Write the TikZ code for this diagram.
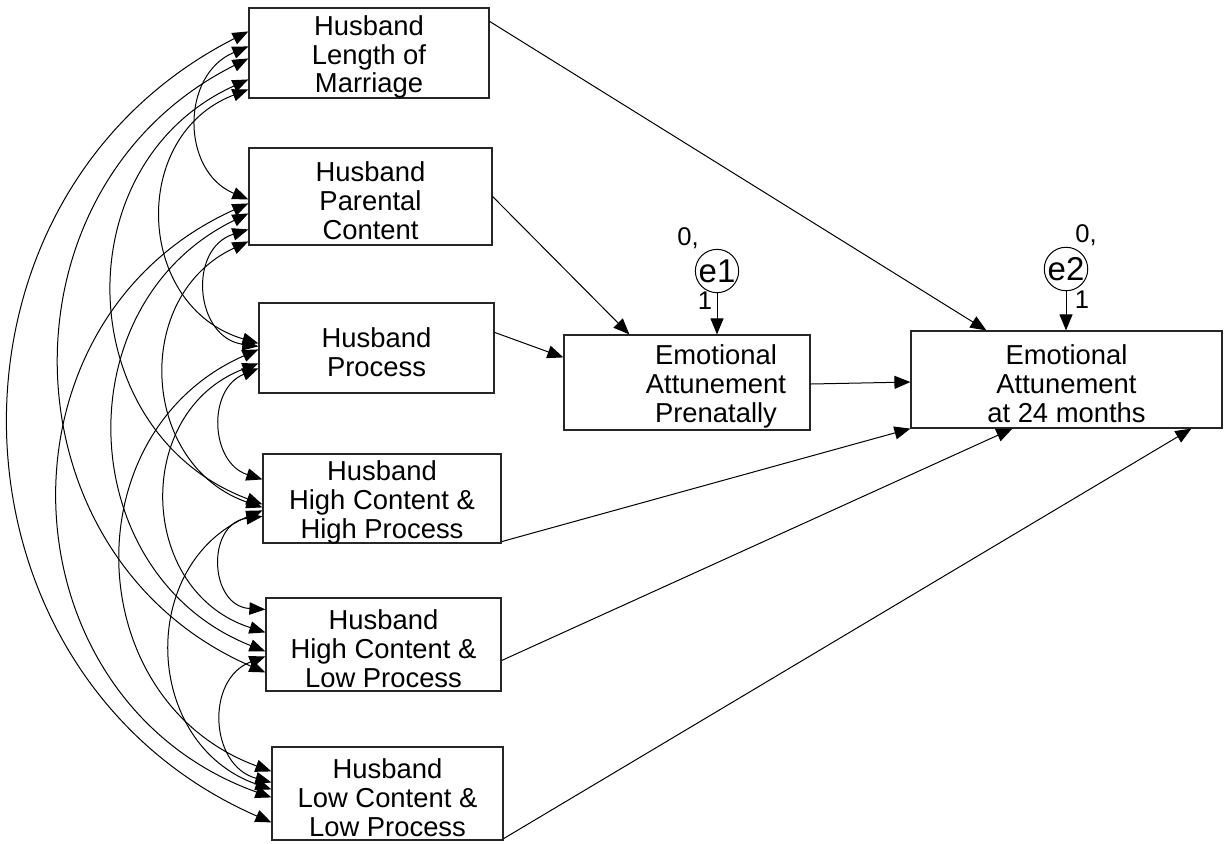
\documentclass[tikz,border=0pt]{standalone}
\usepackage{fontspec}
\setmainfont{Liberation Sans}
\usetikzlibrary{arrows.meta,calc}
\begin{document}
\begin{tikzpicture}[x=0.5pt,y=-0.5pt,
  box/.style={draw=black!85, line width=0.6pt, inner sep=0pt},
  boxtext/.style={draw=none, inner sep=0pt, align=center,
    font=\fontsize{13.7}{14.4}\selectfont},
  txt/.style={label={[boxtext, yshift=-2pt]center:#1}},
  txtoff/.style 2 args={label={[boxtext, xshift=#1, yshift=-2pt]center:#2}},
  path/.style={-{Triangle[length=8pt,width=6.5pt]}, line width=0.5pt},
  cov/.style={{Triangle[length=8pt,width=6.2pt]}-{Triangle[length=8pt,width=6.2pt]}, line width=0.5pt},
  err/.style={draw, circle, line width=0.5pt, inner sep=0pt, minimum size=19.5pt,
    font=\fontsize{16.5}{16.5}\selectfont},
  num/.style={font=\fontsize{12.8}{13}\selectfont, inner sep=0pt, anchor=base}
]
\useasboundingbox (0,0) rectangle (1225,843);

% exogenous variables
\node[box, minimum width=120pt, minimum height=45pt, txt={Husband\\Length of\\Marriage}] (lom) at (369,53) {};
\node[box, minimum width=121.5pt, minimum height=48.5pt, txt={Husband\\Parental\\Content}] (pc) at (370.5,196.5) {};
\node[box, minimum width=117.5pt, minimum height=45pt, txt={Husband\\Process}] (proc) at (376.5,348) {};
\node[box, minimum width=119pt, minimum height=44.5pt, txt={Husband\\High Content \&\\High Process}] (hchp) at (382,498.5) {};
\node[box, minimum width=117.5pt, minimum height=46.5pt, txt={Husband\\High Content \&\\Low Process}] (hclp) at (383.5,644.5) {};
\node[box, minimum width=115.5pt, minimum height=46.5pt, txt={Husband\\Low Content \&\\Low Process}] (lclp) at (387.5,793.5) {};

% endogenous variables
\node[box, minimum width=123pt, minimum height=47.5pt,
  txtoff={14.5pt}{Emotional\\Attunement\\Prenatally}] (pre) at (687,382.5) {};
\node[box, minimum width=155.5pt, minimum height=48.5pt,
  txt={Emotional\\Attunement\\at 24 months}] (m24) at (1066.5,379.5) {};

% error terms
\node[err] (e1) at (717,271) {e1};
\node[err, minimum size=20pt] (e2) at (1066,269) {e2};
\node[num] (e1m) at (688,245) {0,};
\node[num] (e1w) at (705,309) {1};
\node[num] (e2m) at (1086,242) {0,};
\node[num] (e2w) at (1082,308) {1};
\draw[path] (e1) -- (e1.south |- pre.north);
\draw[path] (e2) -- (e2.south |- m24.north);

% regression paths
\draw[path] ([yshift=-7pt]lom.north east) -- ([xshift=38pt]m24.north west);
\draw[path] (pc.east) -- ([xshift=33pt]pre.north west);
\draw[path] ([yshift=-15pt]proc.north east) -- ([yshift=-11.5pt]pre.north west);
\draw[path] ([yshift=-0.75pt]pre.east) -- ([yshift=-1.25pt]m24.west);
\draw[path] ([yshift=1pt]hchp.south east) -- (m24.south west);
\draw[path] ([yshift=-8pt]hclp.east) -- ([xshift=51pt]m24.south west);
\draw[path] ([yshift=1pt]lclp.south east) -- ([xshift=140.5pt]m24.south west);

% covariances among exogenous variables
\draw[cov] ([yshift=-12pt]lom.north west) to[bend right=64.7, looseness=1.19] ([yshift=-38pt]lclp.north west);
\draw[cov] ([yshift=-25.5pt]lom.north west) to[bend right=65, looseness=1.20] ([yshift=-37.5pt]hclp.north west);
\draw[cov] ([yshift=-36pt]lom.north west) to[bend right=67.5, looseness=1.23] ([yshift=-25.5pt]hchp.north west);
\draw[cov] ([yshift=-41pt]lom.north west) to[bend right=71.3, looseness=1.29] ([yshift=-20.5pt]proc.north west);
\draw[cov] ([yshift=-19.5pt]lom.north west) to[bend right=67.4, looseness=1.23] ([yshift=-26pt]pc.north west);
\draw[cov] ([yshift=-28pt]pc.north west) to[bend right=68, looseness=1.24] ([yshift=-25.5pt]lclp.north west);
\draw[cov] ([yshift=-33pt]pc.north west) to[bend right=66.2, looseness=1.21] ([yshift=-27pt]hclp.north west);
\draw[cov] ([yshift=-47pt]pc.north west) to[bend right=68.1, looseness=1.24] ([yshift=-27pt]hchp.north west);
\draw[cov] ([yshift=-41pt]pc.north west) to[bend right=77.3, looseness=1.40] ([yshift=-22pt]proc.north west);
\draw[cov] ([yshift=-23.5pt]proc.north west) to[bend right=68, looseness=1.24] ([yshift=-12.5pt]lclp.north west);
\draw[cov] ([yshift=-30.5pt]proc.north west) to[bend right=70.8, looseness=1.28] ([yshift=-17.5pt]hclp.north west);
\draw[cov] ([yshift=-33pt]proc.north west) to[bend right=70.2, looseness=1.27] ([yshift=-13pt]hchp.north west);
\draw[cov] ([yshift=-28.5pt]hchp.north west) to[bend right=68.8, looseness=1.25] ([yshift=-21.5pt]lclp.north west);
\draw[cov] ([yshift=-31.5pt]hchp.north west) to[bend right=84.9, looseness=1.56] ([yshift=-6pt]hclp.north west);
\draw[cov] ([yshift=-29.5pt]hclp.north west) to[bend right=72.2, looseness=1.30] ([yshift=-18pt]lclp.north west);
\end{tikzpicture}
\end{document}
